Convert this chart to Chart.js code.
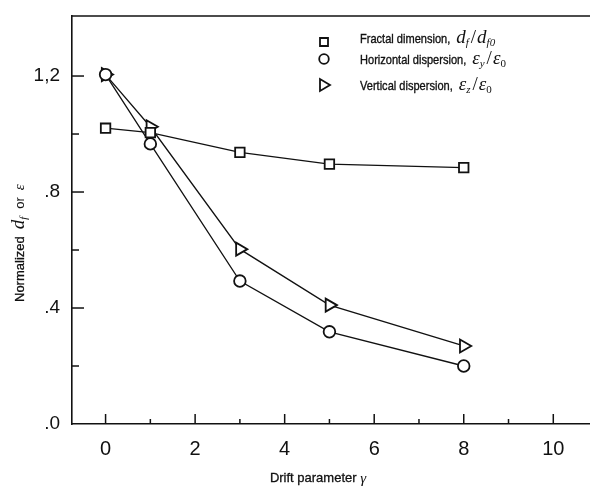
<!DOCTYPE html>
<html>
<head>
<meta charset="utf-8">
<script src="https://cdn.jsdelivr.net/npm/chart.js@4/dist/chart.umd.min.js"></script>
<style>
html,body{margin:0;padding:0;background:#fff;}
#wrap{width:590px;height:489px;position:relative;}
</style>
</head>
<body>
<div id="wrap"><canvas id="c" width="590" height="489"></canvas></div>
<script>
// ---- data ----
const driftValues = [0, 1, 3, 5, 8];
const fractalDimension = [1.02, 1.005, 0.937, 0.896, 0.884];
const horizontalDispersion = [1.205, 0.966, 0.493, 0.318, 0.200];
const verticalDispersion = [1.205, 1.025, 0.603, 0.410, 0.269];

const xTickValues = [0, 1, 2, 3, 4, 5, 6, 7, 8, 9, 10];
const xTickLabels = ['0', '', '2', '', '4', '', '6', '', '8', '', '10'];
const yTickValues = [0, 0.2, 0.4, 0.6, 0.8, 1.0, 1.2];
const yTickLabels = ['.0', '', '.4', '', '.8', '', '1,2'];

const legendNames = ['Fractal dimension,', 'Horizontal dispersion,', 'Vertical dispersion,'];

const INK = '#111';
const SANS = '"Liberation Sans", Arial, Helvetica, sans-serif';
const SERIF = '"Liberation Serif", "DejaVu Serif", serif';

function pts(xs, ys) { return xs.map((x, i) => ({x: x, y: ys[i]})); }

function partWidth(ctx, p) { ctx.font = p.f; return ctx.measureText(p.t).width * (p.sx || 1) + (p.sp || 0); }
function measureParts(ctx, parts) { return parts.reduce((w, p) => w + partWidth(ctx, p), 0); }
function richText(ctx, x, y, parts) {
  ctx.textBaseline = 'alphabetic';
  ctx.textAlign = 'left';
  for (const p of parts) {
    ctx.font = p.f;
    ctx.save();
    ctx.translate(x, y + (p.dy || 0));
    ctx.scale(p.sx || 1, 1);
    ctx.fillText(p.t, 0, 0);
    if (p.heavy) { ctx.lineWidth = p.heavy; ctx.strokeText(p.t, 0, 0); }
    ctx.restore();
    x += partWidth(ctx, p);
  }
  return x;
}

const decorPlugin = {
  id: 'decor',
  beforeDatasetsDraw(chart) {
    const ctx = chart.ctx, a = chart.chartArea;
    const xs = chart.scales.x, ys = chart.scales.y;
    ctx.save();
    ctx.strokeStyle = INK;
    ctx.lineWidth = 1.5;
    ctx.beginPath();
    ctx.moveTo(a.left, a.top); ctx.lineTo(a.right, a.top);
    ctx.stroke();
    yTickValues.forEach((v, i) => {
      if (v === 0) return;
      const py = ys.getPixelForValue(v);
      const len = yTickLabels[i] ? 12 : 7;
      ctx.beginPath(); ctx.moveTo(a.left, py); ctx.lineTo(a.left + len, py); ctx.stroke();
    });
    xTickValues.forEach((v, i) => {
      const px = xs.getPixelForValue(v);
      const len = xTickLabels[i] ? 10 : 5;
      ctx.beginPath(); ctx.moveTo(px, a.bottom); ctx.lineTo(px, a.bottom - len); ctx.stroke();
    });
    ctx.restore();
  },
  afterDraw(chart) {
    const ctx = chart.ctx;
    ctx.save();
    ctx.fillStyle = INK;
    ctx.strokeStyle = INK;
    const reg = '13px ' + SANS;
    // x axis title
    const xparts = [
      {t: 'Drift parameter ', f: reg, heavy: 0.3},
      {t: 'γ', f: 'italic 15px ' + SERIF, dy: 1}
    ];
    richText(ctx, 318 - measureParts(ctx, xparts) / 2, 482, xparts);
    // y axis title (rotated)
    ctx.save();
    ctx.translate(24, 0);
    ctx.rotate(-Math.PI / 2);
    const yparts = [
      {t: 'Normalized', f: reg, sp: 7, heavy: 0.3},
      {t: 'd', f: 'italic 19px ' + SERIF},
      {t: 'f', f: 'italic 11px ' + SERIF, dy: 3, sp: 8},
      {t: 'or', f: '13px ' + SANS, sp: 7},
      {t: 'ε', f: 'italic 15px ' + SERIF}
    ];
    richText(ctx, -302, 0, yparts);
    ctx.restore();

    // legend
    const mx = 324;
    const rows = [42, 59, 85];
    const base = [43, 64, 90];
    ctx.lineWidth = 1.8;
    ctx.fillStyle = '#fff';
    ctx.beginPath(); ctx.rect(mx - 4, rows[0] - 4, 8, 8); ctx.fill(); ctx.stroke();
    ctx.beginPath(); ctx.arc(mx, rows[1], 4.8, 0, Math.PI * 2); ctx.fill(); ctx.stroke();
    ctx.beginPath();
    ctx.moveTo(mx + 6, rows[2]); ctx.lineTo(mx - 4, rows[2] - 6); ctx.lineTo(mx - 4, rows[2] + 6); ctx.closePath();
    ctx.fill(); ctx.stroke();
    ctx.fillStyle = INK;
    const lf = '13px ' + SANS;
    const mi = 'italic 19px ' + SERIF;
    const sub = 'italic 11px ' + SERIF;
    const subN = '11px ' + SERIF;
    const nm = '19px ' + SERIF;
    const lab = (t) => ({t: t, f: lf, sx: 0.85, sp: 6, heavy: 0.35});
    richText(ctx, 360, base[0], [
      lab(legendNames[0]),
      {t: 'd', f: mi}, {t: 'f', f: sub, dy: 3, sp: 2},
      {t: '/', f: nm, sp: 1},
      {t: 'd', f: mi}, {t: 'f0', f: sub, dy: 3}
    ]);
    richText(ctx, 360, base[1], [
      lab(legendNames[1]),
      {t: 'ε', f: mi}, {t: 'y', f: sub, dy: 3, sp: 2},
      {t: '/', f: nm, sp: 1},
      {t: 'ε', f: mi}, {t: '0', f: subN, dy: 3}
    ]);
    richText(ctx, 360, base[2], [
      lab(legendNames[2]),
      {t: 'ε', f: mi}, {t: 'z', f: sub, dy: 3, sp: 2},
      {t: '/', f: nm, sp: 1},
      {t: 'ε', f: mi}, {t: '0', f: subN, dy: 3}
    ]);
    ctx.restore();
  }
};

const common = {
  borderColor: INK,
  borderWidth: 1.3,
  pointBorderColor: INK,
  pointBackgroundColor: '#fff',
  pointBorderWidth: 1.8,
  showLine: true,
  tension: 0,
  fill: false
};

new Chart(document.getElementById('c'), {
  type: 'scatter',
  data: {
    datasets: [
      Object.assign({}, common, {label: legendNames[0], data: pts(driftValues, fractalDimension), pointStyle: 'rect', pointRadius: 6.7}),
      Object.assign({}, common, {label: legendNames[1], data: pts(driftValues, horizontalDispersion), pointStyle: 'circle', pointRadius: 5.8}),
      Object.assign({}, common, {label: legendNames[2], data: pts(driftValues, verticalDispersion), pointStyle: 'triangle', pointRotation: 90, pointRadius: 7.5})
    ]
  },
  options: {
    responsive: false,
    animation: false,
    events: [],
    layout: {padding: {top: 16, right: 0, left: 0, bottom: 0}, autoPadding: false},
    plugins: {legend: {display: false}, tooltip: {enabled: false}},
    scales: {
      x: {
        type: 'linear',
        min: -0.75, max: 10.82,
        afterFit: s => { s.height = 65; s.paddingLeft = 0; s.paddingRight = 0; },
        afterBuildTicks: s => { s.ticks = xTickValues.map(v => ({value: v})); },
        grid: {display: true, drawOnChartArea: false, drawTicks: false},
        border: {display: true, color: INK, width: 1.6},
        ticks: {
          autoSkip: false, maxRotation: 0,
          padding: 13,
          color: INK,
          font: {family: SANS, size: 20},
          callback: (v) => { const i = xTickValues.indexOf(v); return i >= 0 ? xTickLabels[i] : ''; }
        }
      },
      y: {
        type: 'linear',
        min: 0, max: 1.407,
        afterFit: s => { s.width = 72; s.paddingTop = 0; s.paddingBottom = 0; },
        afterBuildTicks: s => { s.ticks = yTickValues.map(v => ({value: v})); },
        grid: {display: true, drawOnChartArea: false, drawTicks: false},
        border: {display: true, color: INK, width: 1.6},
        ticks: {
          autoSkip: false,
          padding: 12,
          color: INK,
          font: {family: SANS, size: 19},
          callback: (v) => { const i = yTickValues.findIndex(t => Math.abs(t - v) < 1e-9); return i >= 0 ? yTickLabels[i] : ''; }
        }
      }
    }
  },
  plugins: [decorPlugin]
});
</script>
</body>
</html>
